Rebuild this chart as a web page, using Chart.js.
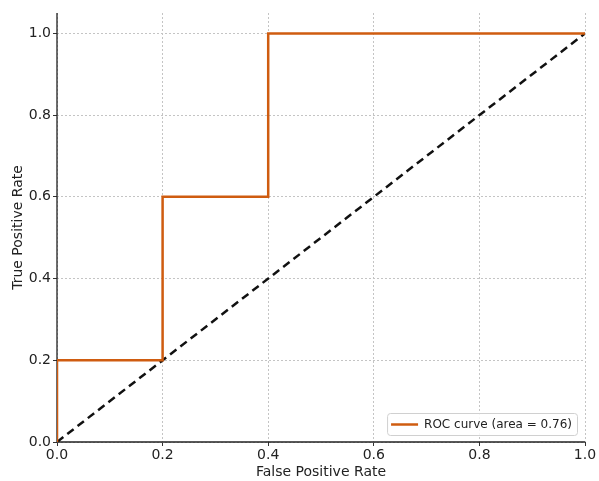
<!DOCTYPE html>
<html>
<head>
<meta charset="utf-8">
<script src="https://cdn.jsdelivr.net/npm/chart.js@4"></script>
<style>
  html, body { margin: 0; padding: 0; background: #fff; }
  #wrap { width: 599px; height: 481px; }
</style>
</head>
<body>
<div id="wrap"><canvas id="rocChart"></canvas></div>
<script>
// ROC curve points
const fpr = [0.0, 0.0, 0.2, 0.2, 0.4, 0.4, 1.0];
const tpr = [0.0, 0.2, 0.2, 0.6, 0.6, 1.0, 1.0];
const chanceX = [0.0, 1.0];
const chanceY = [0.0, 1.0];
const xTicks = [0.0, 0.2, 0.4, 0.6, 0.8, 1.0];
const yTicks = [0.0, 0.2, 0.4, 0.6, 0.8, 1.0];
const rocLabel = 'ROC curve (area = 0.76)';

const orange = 'rgb(207,92,16)';
const tickFont = { family: 'DejaVu Sans', size: 14 };
const titleFont = { family: 'DejaVu Sans', size: 14 };

// solid left + bottom spines (grid lines are dotted)
const spines = {
	id: 'spines',
	beforeDatasetsDraw(chart) {
		const ctx = chart.ctx, a = chart.chartArea;
		ctx.save();
		ctx.strokeStyle = '#222';
		ctx.lineWidth = 1.3;
		ctx.beginPath();
		ctx.moveTo(a.left, a.top);
		ctx.lineTo(a.left, a.bottom);
		ctx.lineTo(a.right, a.bottom);
		ctx.stroke();
		ctx.restore();
	}
};

// legend box in the lower right corner of the plot, like matplotlib
const legendBox = {
	id: 'legendBox',
	afterDatasetsDraw(chart) {
		const ctx = chart.ctx, area = chart.chartArea;
		ctx.save();
		ctx.font = '12px "DejaVu Sans"';
		const tw = ctx.measureText(rocLabel).width;
		const w = tw + 42, h = 22;
		const x = area.right - 8 - w, y = area.bottom - 7 - h;
		ctx.fillStyle = 'rgba(255,255,255,0.85)';
		ctx.strokeStyle = '#d0d0d0';
		ctx.lineWidth = 1;
		ctx.beginPath();
		ctx.roundRect(x + 0.5, y + 0.5, w, h, 3);
		ctx.fill();
		ctx.stroke();
		ctx.strokeStyle = orange;
		ctx.lineWidth = 2.5;
		ctx.beginPath();
		ctx.moveTo(x + 4, y + h / 2 + 0.5);
		ctx.lineTo(x + 31, y + h / 2 + 0.5);
		ctx.stroke();
		ctx.fillStyle = '#222';
		ctx.textBaseline = 'middle';
		ctx.fillText(rocLabel, x + 37, y + h / 2 + 1);
		ctx.restore();
	}
};

const config = {
	type: 'scatter',
	data: {
		datasets: [{
			label: rocLabel,
			data: fpr.map((v, i) => ({ x: v, y: tpr[i] })),
			showLine: true,
			borderColor: orange,
			borderWidth: 2.5,
			pointRadius: 0,
			fill: false,
			tension: 0
		}, {
			label: 'chance',
			data: chanceX.map((v, i) => ({ x: v, y: chanceY[i] })),
			showLine: true,
			borderColor: '#111',
			borderWidth: 2.5,
			borderDash: [8, 5],
			pointRadius: 0,
			fill: false
		}]
	},
	options: {
		responsive: true,
		maintainAspectRatio: false,
		animation: false,
		layout: { padding: { top: 13, right: 14, left: 10, bottom: 0 } },
		plugins: {
			legend: { display: false },
			tooltip: { enabled: false }
		},
		scales: {
			x: {
				type: 'linear',
				min: 0,
				max: 1,
				afterBuildTicks: s => { s.ticks = xTicks.map(v => ({ value: v })); },
				afterFit: s => { s.height = 39; },
				ticks: {
					font: tickFont,
					color: '#222',
					padding: 1,
					maxRotation: 0,
					callback: v => v.toFixed(1)
				},
				grid: {
					color: '#c4c4c4',
					lineWidth: 1,
					tickColor: '#333',
					tickLength: 4,
					tickBorderDash: []
				},
				border: { display: false, dash: [2, 2] },
				title: {
					display: true,
					text: 'False Positive Rate',
					font: titleFont,
					color: '#222',
					padding: { top: 0, bottom: 0 }
				}
			},
			y: {
				type: 'linear',
				min: 0,
				max: 1.05,
				afterBuildTicks: s => { s.ticks = yTicks.map(v => ({ value: v })); },
				afterFit: s => { s.width = 47; },
				ticks: {
					font: tickFont,
					color: '#222',
					padding: 2,
					callback: v => v.toFixed(1)
				},
				grid: {
					color: '#c4c4c4',
					lineWidth: 1,
					tickColor: '#333',
					tickLength: 4,
					tickBorderDash: []
				},
				border: { display: false, dash: [2, 2] },
				title: {
					display: true,
					text: 'True Positive Rate',
					font: titleFont,
					color: '#222',
					padding: { top: 0, bottom: 0 }
				}
			}
		}
	},
	plugins: [spines, legendBox]
};

new Chart(document.getElementById('rocChart'), config);
</script>
</body>
</html>
